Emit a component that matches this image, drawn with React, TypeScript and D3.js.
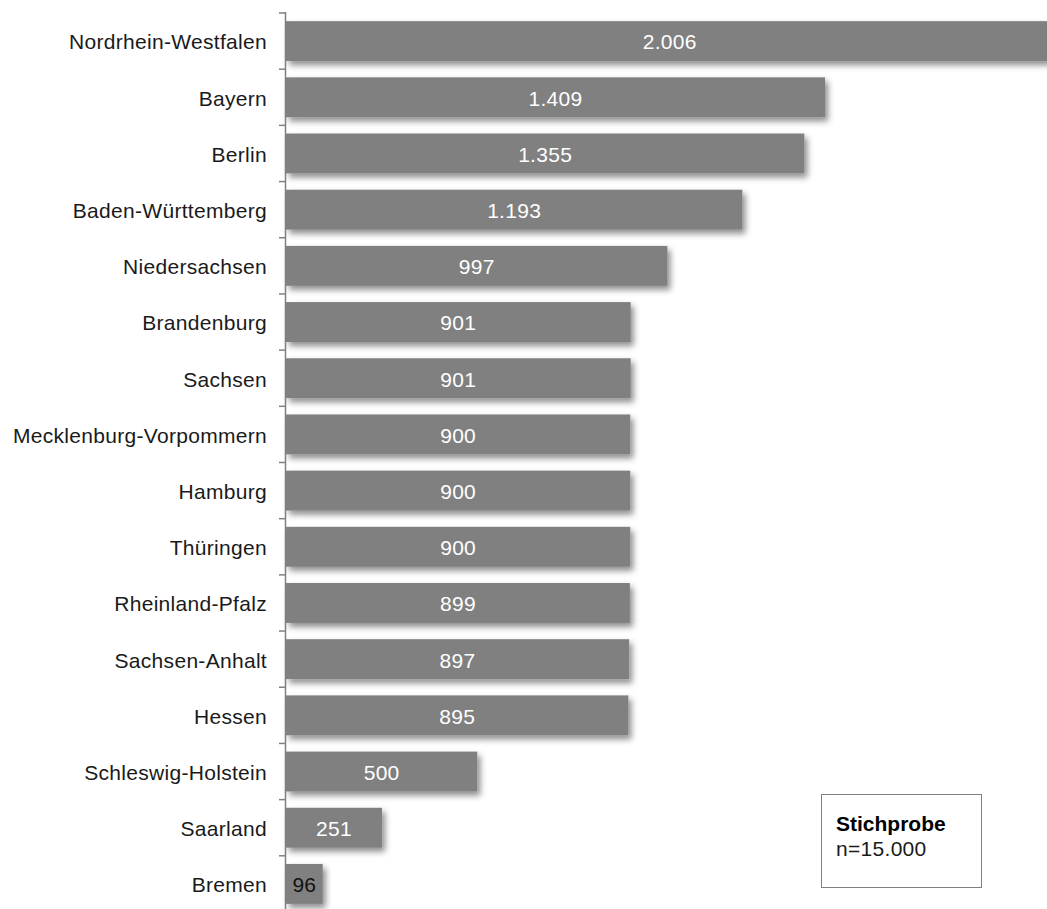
import React from "react";
import * as d3 from "d3";

const categories = [
  "Nordrhein-Westfalen", "Bayern", "Berlin", "Baden-Württemberg", "Niedersachsen",
  "Brandenburg", "Sachsen", "Mecklenburg-Vorpommern", "Hamburg", "Thüringen",
  "Rheinland-Pfalz", "Sachsen-Anhalt", "Hessen", "Schleswig-Holstein", "Saarland", "Bremen",
];
const values = [2006, 1409, 1355, 1193, 997, 901, 901, 900, 900, 900, 899, 897, 895, 500, 251, 96];
const legendTitle = "Stichprobe";
const legendText = "n=15.000";

const W = 1047;
const H = 909;
const FONT = "'Liberation Sans', Arial, Helvetica, sans-serif";
const FS = 21;

const locale = d3.formatLocale({ decimal: ",", thousands: ".", grouping: [3], currency: ["", "€"] });
const fmt = locale.format(",d");

export default function App() {
  const x0 = 286;
  const x = d3.scaleLinear().domain([0, 1409]).range([x0, 825]);
  const y = d3.scaleBand<string>().domain(categories).range([13, 912]).paddingInner(0.29).paddingOuter(0.145);
  const step = y.step();
  const boundaries = d3.range(categories.length + 1).map((i) => 13 + i * step);

  return (
    <svg width={W} height={H} style={{ position: "absolute", left: 0, top: 0, background: "#fff" }}>
      <defs>
        <filter id="shadow" x="-10%" y="-30%" width="130%" height="180%">
          <feDropShadow dx="3" dy="4" stdDeviation="3" floodColor="#000" floodOpacity="0.45" />
        </filter>
      </defs>
      {categories.map((c, i) => {
        const bw = x(values[i]) - x0;
        const cy = (y(c) as number) + y.bandwidth() / 2;
        return (
          <g key={c}>
            <rect x={x0} y={y(c)} width={bw} height={y.bandwidth()} fill="#808080" filter="url(#shadow)" />
            <text
              x={x0 + bw / 2}
              y={cy + 1}
              dy="0.35em"
              textAnchor="middle"
              fill={values[i] < 150 ? "#111" : "#fff"}
              fontFamily={FONT}
              fontSize={FS}
              letterSpacing={0.3}
            >
              {fmt(values[i])}
            </text>
            <text
              x={267}
              y={cy + 1}
              dy="0.35em"
              textAnchor="end"
              fill="#1a1a1a"
              fontFamily={FONT}
              fontSize={FS}
              letterSpacing={0.3}
            >
              {c}
            </text>
          </g>
        );
      })}
      <line x1={x0 - 0.5} x2={x0 - 0.5} y1={12} y2={H} stroke="#808080" strokeWidth={1.5} />
      {boundaries.map((b, i) => (
        <line key={i} x1={x0 - 7} x2={x0} y1={b} y2={b} stroke="#808080" strokeWidth={1.5} />
      ))}
      <rect x={821.5} y={794.5} width={160} height={93} fill="#fff" stroke="#808080" strokeWidth={1} />
      <text x={836} y={831} fontFamily={FONT} fontSize={FS} fontWeight="bold" fill="#000">
        {legendTitle}
      </text>
      <text x={836} y={856} fontFamily={FONT} fontSize={FS} fill="#1a1a1a" letterSpacing={0.3}>
        {legendText}
      </text>
    </svg>
  );
}
